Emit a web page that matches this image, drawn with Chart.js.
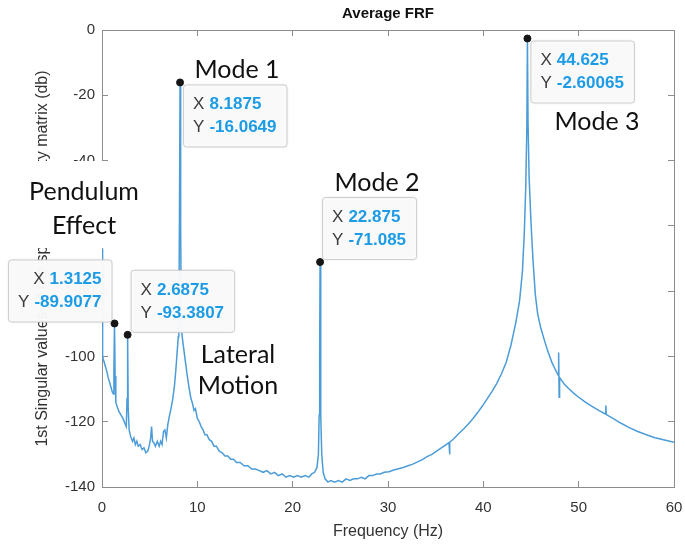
<!DOCTYPE html>
<html>
<head>
<meta charset="utf-8">
<title>Average FRF</title>
<script src="https://cdn.jsdelivr.net/npm/chart.js@4.4.1/dist/chart.umd.min.js"></script>
<style>
    html, body { margin: 0; padding: 0; background: #fff; }
    #wrap { width: 685px; height: 548px; }
</style>
</head>
<body>
<div id="wrap"><canvas id="frfChart" width="685" height="548"></canvas></div>
<script>
// frequency axis (Hz) and 1st singular value (dB)
const freqHz = [
    0, 0.0625, 0.2, 0.35, 0.5, 0.65, 0.8, 0.95, 1.1, 1.2,
    1.25, 1.3125, 1.375, 1.45, 1.6, 1.8, 2.0, 2.2, 2.4, 2.55,
    2.625, 2.6875, 2.75, 2.85, 3.0, 3.2, 3.35, 3.5, 3.65, 3.8,
    4.0, 4.2, 4.4, 4.6, 4.8, 4.95, 5.1, 5.2, 5.3, 5.45,
    5.6, 5.8, 6.0, 6.15, 6.3, 6.45, 6.6, 6.75, 6.9, 7.05,
    7.2, 7.4, 7.6, 7.75, 7.9, 8.0, 8.0625, 8.125, 8.1875, 8.25,
    8.3125, 8.375, 8.5, 8.7, 8.9, 9.1, 9.3, 9.5, 9.65, 9.8,
    10.0, 10.2, 10.4, 10.6, 10.8, 11.0, 11.25, 11.5, 11.75, 12.0,
    12.3, 12.6, 12.9, 13.2, 13.5, 13.8, 14.1, 14.5, 14.9, 15.3,
    15.7, 16.1, 16.5, 16.9, 17.3, 17.7, 18.1, 18.5, 18.9, 19.3,
    19.7, 20.1, 20.5, 20.9, 21.3, 21.7, 22.0, 22.3, 22.55, 22.7,
    22.78, 22.83, 22.875, 22.92, 22.97, 23.05, 23.2, 23.4, 23.7, 24.0,
    24.4, 24.8, 25.2, 25.6, 26.0, 26.4, 26.8, 27.2, 27.6, 28.0,
    28.4, 28.8, 29.2, 29.6, 30.1, 30.6, 31.1, 31.6, 32.1, 32.6,
    33.1, 33.6, 34.1, 34.6, 35.1, 35.6, 36.1, 36.4, 36.45, 36.5,
    36.9, 37.4, 37.9, 38.4, 38.9, 39.4, 39.9, 40.4, 40.9, 41.4,
    41.9, 42.4, 42.9, 43.4, 43.8, 44.1, 44.3, 44.45, 44.5625, 44.625,
    44.6875, 44.8, 45.0, 45.2, 45.45, 45.7, 46.0, 46.4, 46.8, 47.2,
    47.6, 47.85, 47.9, 47.95, 48.0, 48.5, 49.0, 49.5, 50.0, 50.7,
    51.4, 52.1, 52.8, 52.85, 52.9, 53.6, 54.4, 55.3, 56.2, 57.1,
    58.0, 59.0, 60.0
];
const frfDb = [
    -67, -100, -101.5, -103, -104.5, -106.5, -108, -109.5, -111, -111.5,
    -104, -89.9077, -106, -114, -115.5, -117, -118, -119, -120.5, -121.5,
    -113, -93.3807, -116, -122.5, -124.5, -126, -125, -127, -126, -127.5,
    -127, -128.5, -128, -129.5, -129, -127.5, -125, -121.5, -126, -126.5,
    -127.5, -126, -127.5, -126, -127, -123, -122.5, -125, -121, -118.5,
    -116.5, -113.5, -109, -104, -98, -94, -88, -58, -16.0649, -60,
    -88, -93, -96, -100.5, -105, -109, -112.5, -114.5, -116.5, -116,
    -119, -120, -121.5, -122.5, -124, -124, -125.5, -126, -127.5, -127.5,
    -129, -129.5, -130.5, -130.5, -131.5, -131.5, -132.5, -132.5, -133.5, -133.5,
    -134.5, -134.5, -135, -135.5, -135, -136, -135.5, -136.5, -136, -137,
    -136.5, -137, -136.5, -137, -136.5, -137, -136, -135.5, -134, -130,
    -118, -100, -71.085, -100, -118, -130, -135.5, -137.5, -138.5, -138,
    -138.5, -138, -138.5, -137.5, -138, -137.5, -137.5, -137, -137.5, -136.5,
    -136.5, -136, -136, -135.5, -135.3, -134.8, -134.4, -134, -133.5, -133,
    -132.3, -131.6, -130.7, -130, -129, -128, -127, -126.4, -130, -126.3,
    -125.2, -123.7, -122.3, -120.8, -119.1, -117.2, -115.2, -113, -110.8, -108.3,
    -105.3, -101.8, -96.5, -89.7, -83, -74, -62, -48, -30, -2.60065,
    -28, -45, -59, -70, -81, -87, -91, -95, -98.7, -101.9,
    -104.3, -105.8, -98.8, -112.5, -106.5, -108.5, -110, -111.3, -112.5, -114,
    -115.3, -116.5, -117.6, -115, -117.8, -119, -120.4, -121.8, -123, -124,
    -124.9, -125.6, -126.3
];

// data tips
const peakFreqHz = [1.3125, 2.6875, 8.1875, 22.875, 44.625];
const peakDb = [-89.9077, -93.3807, -16.0649, -71.085, -2.60065];

const xTicks = [0, 10, 20, 30, 40, 50, 60];
const yTicks = [0, -20, -40, -60, -80, -100, -120, -140];

const axisFont = { family: 'Liberation Sans', size: 15 };
const noteFont = 'Lato';

// where each data tip box sits relative to its marker
const tipSpecs = [
    { i: 0, corner: 'bottomRight', dx: -3, dy: -2, align: 'right' },
    { i: 1, corner: 'bottomLeft', dx: 3, dy: -3 },
    { i: 2, corner: 'topLeft', dx: 3, dy: 2 },
    { i: 3, corner: 'bottomLeft', dx: 2, dy: -3 },
    { i: 4, corner: 'topLeft', dx: 3, dy: 2 }
];

const noteLabels = [
    { lines: ['Mode 1'], x: 237, y: 70 },
    { lines: ['Mode 2'], x: 377, y: 183 },
    { lines: ['Mode 3'], x: 597, y: 122 },
    { lines: ['Pendulum', 'Effect'], x: 84, y: 192, gap: 34, bg: [0, 161, 150, 87] },
    { lines: ['Lateral', 'Motion'], x: 238, y: 355, gap: 31 }
];

const frfNotes = {
    id: 'frfNotes',
    afterDraw(chart) {
        const ctx = chart.ctx;
        const xs = chart.scales.x;
        const ys = chart.scales.y;
        ctx.save();

        // title
        ctx.fillStyle = '#111';
        ctx.font = 'bold 15px "Liberation Sans"';
        ctx.textAlign = 'center';
        ctx.textBaseline = 'middle';
        ctx.fillText('Average FRF', (chart.chartArea.left + chart.chartArea.right) / 2, 14);

        // annotation text
        noteLabels.forEach(function(n) {
            if (n.bg) {
                ctx.fillStyle = '#fff';
                ctx.fillRect(n.bg[0], n.bg[1], n.bg[2], n.bg[3]);
            }
            ctx.fillStyle = '#111';
            ctx.font = '25px ' + noteFont;
            ctx.textAlign = 'center';
            ctx.textBaseline = 'middle';
            n.lines.forEach(function(t, k) {
                ctx.fillText(t, n.x, n.y + k * (n.gap || 0));
            });
        });

        // data tip boxes
        const pad = 10, h = 62, fs = 17;
        tipSpecs.forEach(function(s) {
            const px = xs.getPixelForValue(peakFreqHz[s.i]);
            const py = ys.getPixelForValue(peakDb[s.i]);
            const rows = [['X', String(peakFreqHz[s.i])], ['Y', String(peakDb[s.i])]];
            ctx.font = fs + 'px "Liberation Sans"';
            const lw = ctx.measureText('X').width + 5;
            ctx.font = 'bold ' + fs + 'px "Liberation Sans"';
            const widths = rows.map(r => lw + ctx.measureText(r[1]).width);
            const w = Math.max.apply(null, widths) + 2 * pad;
            let left = px + s.dx, top = py + s.dy;
            if (s.corner.indexOf('Right') > 0) left = px + s.dx - w;
            if (s.corner.indexOf('bottom') === 0) top = py + s.dy - h;

            ctx.shadowColor = 'rgba(0,0,0,0.12)';
            ctx.shadowBlur = 3;
            ctx.fillStyle = 'rgba(250,250,250,0.97)';
            ctx.beginPath();
            ctx.roundRect(left + 0.5, top + 0.5, w, h, 3);
            ctx.fill();
            ctx.shadowBlur = 0;
            ctx.shadowColor = 'transparent';
            ctx.strokeStyle = '#cdcdcd';
            ctx.lineWidth = 1;
            ctx.stroke();

            ctx.textAlign = 'left';
            ctx.textBaseline = 'middle';
            rows.forEach(function(r, k) {
                const ty = top + 20 + k * 23;
                let tx = left + pad;
                if (s.align === 'right') tx = left + w - pad - widths[k];
                ctx.font = fs + 'px "Liberation Sans"';
                ctx.fillStyle = '#3c3c3c';
                ctx.fillText(r[0], tx, ty);
                ctx.font = 'bold ' + fs + 'px "Liberation Sans"';
                ctx.fillStyle = '#1c9be6';
                ctx.fillText(r[1], tx + lw, ty);
            });
        });

        ctx.restore();
    }
};

const sideAxis = function(pos) {
    return {
        type: 'linear',
        position: pos,
        min: pos === 'top' ? 0 : -140,
        max: pos === 'top' ? 60 : 0,
        afterBuildTicks: function(s) {
            s.ticks = (pos === 'top' ? xTicks : yTicks).map(v => ({ value: v }));
        },
        afterFit: function(s) {
            if (pos === 'top') s.height = 0; else s.width = 0;
            s.paddingLeft = s.paddingRight = s.paddingTop = s.paddingBottom = 0;
        },
        ticks: { display: false },
        grid: { drawOnChartArea: false, tickLength: -6, color: '#8c8c8c' },
        border: { color: '#8c8c8c', width: 1 }
    };
};

new Chart(document.getElementById('frfChart'), {
    type: 'line',
    data: {
        datasets: [
            {
                label: 'Data tips',
                type: 'scatter',
                data: peakFreqHz.map((f, i) => ({ x: f, y: peakDb[i] })),
                pointRadius: 3.5,
                pointBackgroundColor: '#161616',
                pointBorderColor: '#161616',
                order: 0
            },
            {
                label: 'Average FRF',
                data: freqHz.map((f, i) => ({ x: f, y: frfDb[i] })),
                borderColor: '#4b9cd8',
                borderWidth: 1.5,
                pointRadius: 0,
                tension: 0,
                fill: false,
                order: 1
            }
        ]
    },
    options: {
        responsive: false,
        animation: false,
        layout: { padding: { top: 30, right: 11, left: 0, bottom: 0 } },
        plugins: {
            legend: { display: false },
            tooltip: { enabled: false }
        },
        scales: {
            x: {
                type: 'linear',
                position: 'bottom',
                min: 0,
                max: 60,
                afterBuildTicks: function(s) {
                    s.ticks = xTicks.map(v => ({ value: v }));
                },
                afterFit: function(s) {
                    s.height = 61;
                    s.paddingLeft = 0;
                    s.paddingRight = 0;
                },
                ticks: { color: '#333', font: axisFont, padding: 18, maxRotation: 0 },
                grid: { drawOnChartArea: false, tickLength: -6, color: '#8c8c8c' },
                border: { color: '#8c8c8c', width: 1 },
                title: {
                    display: true,
                    text: 'Frequency (Hz)',
                    color: '#333',
                    font: { family: 'Liberation Sans', size: 16 },
                    padding: { top: 7, bottom: 7 }
                }
            },
            y: {
                type: 'linear',
                position: 'left',
                min: -140,
                max: 0,
                afterBuildTicks: function(s) {
                    s.ticks = yTicks.map(v => ({ value: v }));
                },
                afterFit: function(s) {
                    s.width = 102;
                    s.paddingTop = 0;
                    s.paddingBottom = 0;
                },
                ticks: { color: '#333', font: axisFont, padding: 13 },
                grid: { drawOnChartArea: false, tickLength: -6, color: '#8c8c8c' },
                border: { color: '#8c8c8c', width: 1 },
                title: {
                    display: true,
                    text: '1st Singular values of the spectral density matrix (db)',
                    color: '#333',
                    font: { family: 'Liberation Sans', size: 16 },
                    padding: { top: 33, bottom: 33 }
                }
            },
            x2: sideAxis('top'),
            y2: sideAxis('right')
        }
    },
    plugins: [frfNotes]
});
</script>
</body>
</html>
